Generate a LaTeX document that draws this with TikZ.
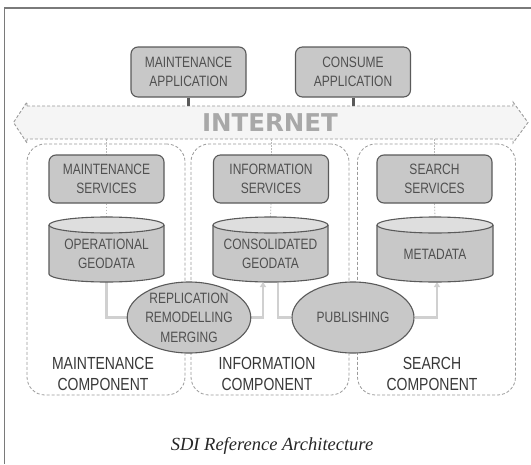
\documentclass[tikz,border=0pt]{standalone}
\usepackage{fontspec}
\newfontfamily\labfont[FakeStretch=0.8]{Liberation Sans}
\newfontfamily\netfont{DejaVu Sans}
\newfontfamily\capfont{Liberation Serif}
\usetikzlibrary{arrows.meta,shapes.geometric}
\pgfdeclarelayer{back}
\pgfdeclarelayer{mid}
\pgfsetlayers{back,mid,main}

\definecolor{boxfill}{HTML}{C8C8C8}
\definecolor{boxedge}{HTML}{5A5A5A}
\definecolor{topfill}{HTML}{DEDEDE}
\definecolor{labtext}{HTML}{505050}
\definecolor{comptext}{HTML}{383838}
\definecolor{wiregray}{HTML}{D0D0D0}
\definecolor{dashgray}{HTML}{9A9A9A}
\definecolor{netfill}{HTML}{F5F5F5}
\definecolor{nettext}{HTML}{A8A8A8}
\definecolor{framegray}{HTML}{7A7A7A}

\tikzset{
  boxtext/.style={font=\labfont\fontsize{15}{19.5}\selectfont, text=labtext, align=center},
  appbox/.style={boxtext, draw=boxedge, fill=boxfill, line width=1.1pt,
    rounded corners=7pt, minimum width=115pt, inner sep=0pt},
  cyledge/.style={draw=boxedge, line width=1.1pt},
  cyltext/.style={boxtext, inner sep=0pt},
  procell/.style={boxtext, ellipse, draw=boxedge, fill=boxfill, line width=1.1pt,
    minimum width=122pt, minimum height=71pt, inner sep=0pt},
  comp/.style={draw=dashgray, dash pattern=on 3pt off 2pt, line width=0.8pt,
    rounded corners=18pt, fill=white, minimum width=158pt, minimum height=251pt},
  complabel/.style={font=\labfont\fontsize{17.5}{21}\selectfont, text=comptext, align=center},
  netbar/.style={draw=dashgray, dash pattern=on 3pt off 2pt, line width=0.9pt, fill=netfill},
  nettitle/.style={font=\netfont\bfseries\fontsize{24.5}{24.5}\selectfont, text=nettext,
    minimum width=486pt, minimum height=33pt, inner sep=0pt},
  applink/.style={draw=boxedge, line width=3pt},
  svclink/.style={draw=gray!55, line width=0.8pt, dash pattern=on 1.5pt off 1.5pt},
  wire/.style={draw=wiregray, line width=2.5pt},
  wirearrow/.style={wire, -{Triangle[length=5pt,width=6pt]}},
}

% cylinder: name, centre x, half width, top y, bottom y, text y, text
\newcommand\geocyl[7]{%
  \fill[boxfill] (#2-#3,#4+8) -- (#2-#3,#5-8)
    arc[start angle=180,end angle=0,x radius=#3,y radius=8] -- (#2+#3,#4+8) -- cycle;
  \draw[cyledge] (#2-#3,#4+8) -- (#2-#3,#5-8)
    arc[start angle=180,end angle=0,x radius=#3,y radius=8] -- (#2+#3,#4+8);
  \draw[cyledge,fill=topfill] (#2,#4+8) ellipse[x radius=#3,y radius=8];
  \node[cyltext] (#1) at (#2,#6) {#7};
  \coordinate (#1-t) at (#2,#4);
  \coordinate (#1-b) at (#2,#5);
}

\begin{document}
\begin{tikzpicture}[x=1pt,y=-1pt]
\useasboundingbox (0,0) rectangle (531,464);

% page frame
\draw[framegray, line width=1.3pt] (531,8) -- (4.5,8) -- (4.5,464);

% components
\begin{pgfonlayer}{back}
\node[comp] (mcomp) at (106,269.5) {};
\node[comp] (icomp) at (270,269.5) {};
\node[comp] (scomp) at (436.5,269.5) {};
\draw[netbar] (27,106) -- (513,106) -- (513,102) -- (528,122.5) -- (513,143)
  -- (513,139) -- (27,139) -- (27,143) -- (13.5,122.5) -- (27,102) -- cycle;
\end{pgfonlayer}

\node[nettitle] (inet) at (270,122.5) {INTERNET};

% applications
\node[appbox, minimum height=50pt] (mapp) at (188.5,72) {MAINTENANCE\\APPLICATION};
\node[appbox, minimum height=50pt] (capp) at (353,72) {CONSUME\\APPLICATION};

% services
\node[appbox, minimum height=48pt] (msvc) at (106.5,179) {MAINTENANCE\\SERVICES};
\node[appbox, minimum height=48pt] (isvc) at (271,179) {INFORMATION\\SERVICES};
\node[appbox, minimum height=48pt] (ssvc) at (434.5,179) {SEARCH\\SERVICES};

% data stores
\geocyl{opgeo}{106.5}{57.5}{217}{282}{254}{OPERATIONAL\\GEODATA}
\geocyl{consgeo}{270.5}{57.5}{217}{282}{254}{CONSOLIDATED\\GEODATA}
\geocyl{meta}{435}{58}{217}{282}{254}{METADATA}

% processes
\node[procell] (repl) at (189,317.5) {REPLICATION\\REMODELLING\\MERGING};
\node[procell] (pub) at (353,317.5) {PUBLISHING};

% component labels
\node[complabel] (mlab) at (103,374) {MAINTENANCE\\COMPONENT};
\node[complabel] (ilab) at (267,374) {INFORMATION\\COMPONENT};
\node[complabel] (slab) at (432,374) {SEARCH\\COMPONENT};

% links
\draw[applink] (mapp.south) -- (mapp.south |- inet.north);
\draw[applink] (capp.south) -- (capp.south |- inet.north);
\begin{pgfonlayer}{mid}
\draw[svclink] (msvc.north |- inet.south) -- (msvc.north);
\draw[svclink] (isvc.north |- inet.south) -- (isvc.north);
\draw[svclink] (ssvc.north |- inet.south) -- (ssvc.north);
\draw[svclink] (msvc.south) -- (opgeo-t);
\draw[svclink] (isvc.south) -- (consgeo-t);
\draw[svclink] (ssvc.south) -- (meta-t);
\draw[wire] (opgeo-b) |- (repl);
\draw[wirearrow] (repl) -| ([xshift=-7.5pt]consgeo-b);
\draw[wire] ([xshift=7.5pt]consgeo-b) |- (pub);
\draw[wirearrow] (pub) -| ([xshift=2pt]meta-b);
\end{pgfonlayer}

% caption
\node[font=\capfont\itshape\fontsize{18.5}{22}\selectfont, text=black!85] (cap) at (272,446) {SDI Reference Architecture};
\end{tikzpicture}
\end{document}
